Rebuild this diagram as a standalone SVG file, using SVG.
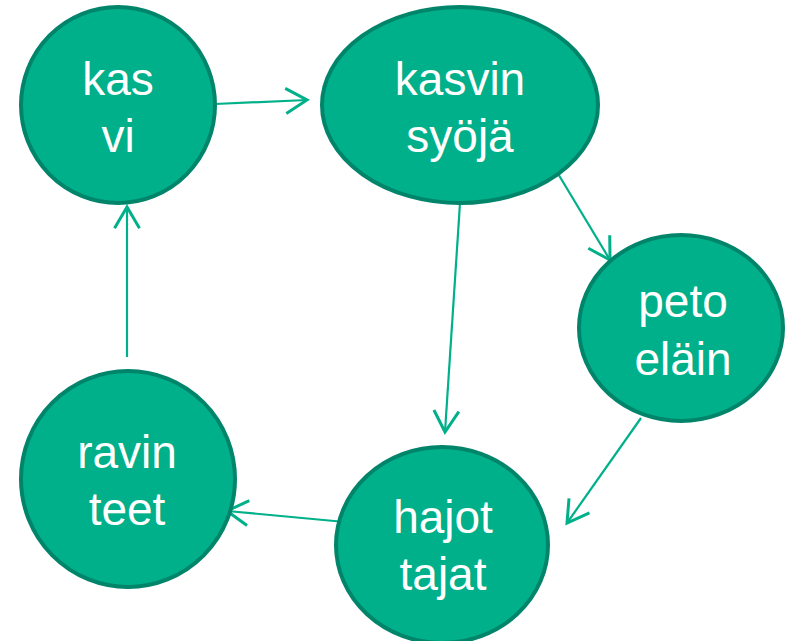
<svg xmlns="http://www.w3.org/2000/svg" width="785" height="641" viewBox="0 0 785 641">
<defs>
<style>
.node{fill:#00B08A;stroke:#00846A;stroke-width:4}
.lbl{fill:#ffffff;font-family:"Liberation Sans",Arial,sans-serif;font-size:46px;text-anchor:middle}
.edge{fill:none;stroke:#00B08A;stroke-width:2.2}
</style>
<marker id="arr" markerUnits="userSpaceOnUse" markerWidth="30" markerHeight="30" viewBox="-20 -12 22 24" refX="0" refY="0" orient="auto">
<path d="M-17,-10 L0,0 L-17,10" fill="none" stroke="#00B08A" stroke-width="2.4"/>
</marker>
</defs>
<rect width="785" height="641" fill="#ffffff"/>
<g id="connectors">
<line class="edge" x1="215" y1="104" x2="307" y2="100" marker-end="url(#arr)"/>
<line class="edge" x1="557" y1="172" x2="610" y2="260" marker-end="url(#arr)"/>
<line class="edge" x1="460" y1="203" x2="445" y2="432" marker-end="url(#arr)"/>
<line class="edge" x1="641" y1="418" x2="567" y2="523" marker-end="url(#arr)"/>
<line class="edge" x1="345" y1="522" x2="227" y2="511" marker-end="url(#arr)"/>
<line class="edge" x1="127" y1="357" x2="127" y2="207" marker-end="url(#arr)"/>
</g>
<g id="kasvi">
<ellipse class="node" cx="118" cy="105" rx="97" ry="98"/>
<text class="lbl" x="118" y="95">kas</text>
<text class="lbl" x="118" y="152">vi</text>
</g>
<g id="kasvinsyoja">
<ellipse class="node" cx="460" cy="105" rx="138" ry="98"/>
<text class="lbl" x="460" y="95">kasvin</text>
<text class="lbl" x="460" y="152">syöjä</text>
</g>
<g id="petoelain">
<ellipse class="node" cx="681" cy="328" rx="102" ry="93"/>
<text class="lbl" x="683" y="317">peto</text>
<text class="lbl" x="683" y="375">eläin</text>
</g>
<g id="ravinteet">
<ellipse class="node" cx="128" cy="479" rx="107" ry="108"/>
<text class="lbl" x="127" y="468">ravin</text>
<text class="lbl" x="127" y="525">teet</text>
</g>
<g id="hajottajat">
<ellipse class="node" cx="442" cy="545" rx="106" ry="98"/>
<text class="lbl" x="443" y="533">hajot</text>
<text class="lbl" x="443" y="590">tajat</text>
</g>
</svg>
